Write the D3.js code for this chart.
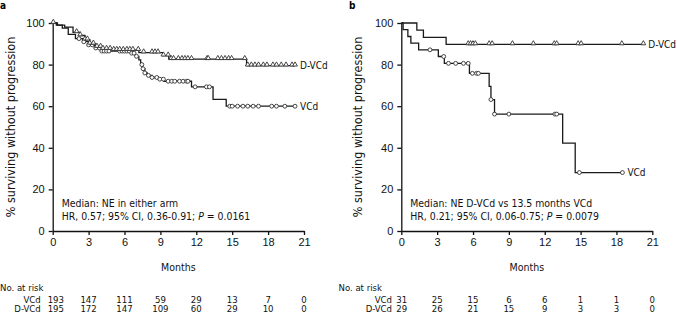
<!DOCTYPE html>
<html>
<head>
<meta charset="utf-8">
<script src="https://cdn.jsdelivr.net/npm/d3@7"></script>
<style>
  body { margin: 0; background: #fff; }
  svg { font-family: "DejaVu Sans Condensed", "Liberation Sans", sans-serif; }
  .axis path, .axis line { stroke: #111; stroke-width: 1.3; }
  .axis text { font-size: 11px; fill: #111; }
</style>
</head>
<body>
<svg id="chart" width="677" height="316"></svg>
<script>
// ticks
const months = [0, 3, 6, 9, 12, 15, 18, 21];
const yTicks = [0, 20, 40, 60, 80, 100];

// panel a: [time in months, % surviving after the drop]
const aVcdSteps = [[0, 100], [0.3, 99], [0.8, 97.5], [1.3, 94.5], [1.9, 92.5], [2.5, 91], [3.0, 89.5], [3.5, 88], [4.0, 86.5],
    [6.5, 85.5], [6.9, 84], [7.2, 82.3], [7.35, 80], [7.5, 78], [7.7, 76], [7.9, 74.8], [8.3, 73.8], [8.8, 73], [9.3, 72],
    [11.6, 69.3], [13.4, 63.3], [14.5, 60]];
const aVcdCensor = [2.2, 2.6, 3.0, 3.3, 3.6, 3.9, 4.1, 4.3, 4.5, 4.7, 5.6, 5.8, 6.0, 6.2, 6.4, 6.6, 6.8, 7.0,
    7.45, 7.55, 7.7, 8.0, 8.3, 8.7, 8.95, 9.25, 9.65, 9.95, 10.2, 10.6, 10.9, 11.2, 11.3, 11.9, 12.85, 13.1,
    14.8, 15.0, 15.45, 15.9, 16.3, 16.75, 17.2, 18.3, 18.7, 19.4, 20.25];
const aDvcdSteps = [[0, 100], [0.4, 99], [1.0, 98], [1.7, 95.5], [2.3, 94], [2.7, 92], [3.1, 90], [3.6, 88.5], [4.2, 87.5],
    [5.0, 87], [7.2, 85.8], [9.2, 84.3], [9.7, 82.6], [16.2, 79.5]];
const aDvcdCensor = [0.05, 2.0, 2.3, 2.7, 2.9, 3.1, 3.4, 3.7, 4.0, 4.2, 4.5, 4.8, 5.1, 5.35, 5.6, 5.9, 6.2, 6.45, 6.7,
    7.15, 7.6, 8.3, 8.55, 8.8, 9.25, 9.65, 9.9, 10.1, 10.5, 10.8, 11.05, 11.3, 11.6, 12.9, 13.0, 13.8, 14.1, 14.4,
    14.7, 14.95, 16.05, 16.3, 16.6, 16.9, 17.2, 17.6, 17.9, 18.4, 18.7, 19.1, 19.5, 20.0, 20.25];
const aVcdRisk = [193, 147, 111, 59, 29, 13, 7, 0];
const aDvcdRisk = [195, 172, 147, 109, 60, 29, 10, 0];

// panel b
const bVcdSteps = [[0, 100], [0.15, 96.8], [0.55, 93.5], [0.8, 90.3], [1.45, 87.1], [3.1, 83.9], [3.6, 80.6],
    [5.7, 75.8], [7.35, 69.5], [7.5, 63.2], [7.8, 56.2], [13.5, 42.2], [14.55, 28.1]];
const bVcdCensor = [2.4, 3.55, 3.95, 4.55, 5.2, 5.6, 5.95, 6.3, 6.45, 7.5, 7.8, 9.0, 12.85, 13.0, 14.9, 18.5];
const bDvcdSteps = [[0, 100], [1.3, 96.6], [1.85, 93.1], [3.75, 89.7]];
const bDvcdCensor = [5.6, 5.8, 6.0, 6.2, 7.35, 7.6, 9.3, 11.05, 12.8, 13.0, 14.8, 15.05, 18.45, 20.25];
const bVcdRisk = [31, 25, 15, 6, 6, 1, 1, 0];
const bDvcdRisk = [29, 26, 21, 15, 9, 3, 3, 0];

const svg = d3.select("#chart");

const panels = [
    {
        letter: "a", letterX: 0, left: 52.7, right: 304, titleX: 15,
        riskTitleX: 0, riskLabelX: 40.7,
        notes: ["Median: NE in either arm", "HR, 0.57; 95% CI, 0.36-0.91; ", "0.0161"],
        arms: [
            { name: "VCd", steps: aVcdSteps, censor: aVcdCensor, risk: aVcdRisk, marker: "circle" },
            { name: "D-VCd", steps: aDvcdSteps, censor: aDvcdCensor, risk: aDvcdRisk, marker: "triangle" }
        ]
    },
    {
        letter: "b", letterX: 349, left: 401.3, right: 652.3, titleX: 362,
        riskTitleX: 338.5, riskLabelX: 392,
        notes: ["Median: NE D-VCd vs 13.5 months VCd", "HR, 0.21; 95% CI, 0.06-0.75; ", "0.0079"],
        arms: [
            { name: "VCd", steps: bVcdSteps, censor: bVcdCensor, risk: bVcdRisk, marker: "circle" },
            { name: "D-VCd", steps: bDvcdSteps, censor: bDvcdCensor, risk: bDvcdRisk, marker: "triangle" }
        ]
    }
];

const plotTop = 23, plotBottom = 231;

// value of the step function at time t
function survAt(steps, t) {
    let v = steps[0][1];
    steps.forEach(s => { if (s[0] <= t) v = s[1]; });
    return v;
}

panels.forEach(p => {
    const x = d3.scaleLinear().domain([0, 21]).range([p.left, p.right]);
    const y = d3.scaleLinear().domain([0, 100]).range([plotBottom, plotTop]);
    const g = svg.append("g");

    g.append("text").attr("x", p.letterX).attr("y", 9)
        .attr("font-size", 10).attr("font-weight", "bold")
        .text(p.letter);

    g.append("g").attr("class", "axis")
        .attr("transform", `translate(${p.left},0)`)
        .call(d3.axisLeft(y).tickValues(yTicks).tickSize(4).tickSizeOuter(0).tickPadding(4));

    g.append("g").attr("class", "axis")
        .attr("transform", `translate(0,${plotBottom})`)
        .call(d3.axisBottom(x).tickValues(months).tickSize(4).tickSizeOuter(0).tickPadding(3));

    g.append("text")
        .attr("transform", `translate(${p.titleX},${(plotTop + plotBottom) / 2}) rotate(-90)`)
        .attr("text-anchor", "middle").attr("font-size", 12.5).attr("fill", "#111")
        .text("% surviving without progression");

    g.append("text").attr("x", (p.left + p.right) / 2).attr("y", 271)
        .attr("text-anchor", "middle").attr("font-size", 10.5).attr("fill", "#111")
        .text("Months");

    // annotation
    g.append("text").attr("x", p.left + 9).attr("y", 206.5)
        .attr("font-size", 10.4).attr("fill", "#111").text(p.notes[0]);
    const hr = g.append("text").attr("x", p.left + 9).attr("y", 220)
        .attr("font-size", 10.4).attr("fill", "#111");
    hr.append("tspan").text(p.notes[1]);
    hr.append("tspan").attr("font-style", "italic").text("P");
    hr.append("tspan").text(" = " + p.notes[2]);

    const line = d3.line().x(d => x(d[0])).y(d => y(d[1])).curve(d3.curveStepAfter);

    p.arms.forEach(arm => {
        const last = arm.steps[arm.steps.length - 1];
        const end = Math.max(last[0], d3.max(arm.censor));
        const pts = arm.steps.concat([[end, last[1]]]);

        g.append("path").datum(pts)
            .attr("fill", "none").attr("stroke", "#1a1a1a").attr("stroke-width", 1.3)
            .attr("d", line);

        g.append("g").selectAll("path")
            .data(arm.censor)
            .join("path")
            .attr("transform", t => `translate(${x(t)},${y(survAt(arm.steps, t)) - (arm.marker === "triangle" ? 1 : 0)})`)
            .attr("d", d3.symbol(arm.marker === "circle" ? d3.symbolCircle : d3.symbolTriangle, arm.marker === "circle" ? 12 : 10))
            .attr("fill", "#fff").attr("stroke", "#333").attr("stroke-width", 0.9);

        g.append("text").attr("x", x(end) + 5).attr("y", y(last[1]))
            .attr("dy", "0.35em").attr("font-size", 10).attr("fill", "#111")
            .text(arm.name);
    });

    // number at risk table
    g.append("text").attr("x", p.riskTitleX).attr("y", 290.5)
        .attr("font-size", 9.5).attr("fill", "#111").text("No. at risk");

    p.arms.forEach((arm, i) => {
        const ry = 302.5 + i * 9.5;
        g.append("text").attr("x", p.riskLabelX).attr("y", ry)
            .attr("text-anchor", "end").attr("font-size", 9.5).attr("fill", "#111").text(arm.name);
        g.append("g").selectAll("text")
            .data(arm.risk)
            .join("text")
            .attr("x", (d, j) => j === 0 ? x(months[j]) - 5 : x(months[j]))
            .attr("y", ry)
            .attr("text-anchor", (d, j) => j === 0 ? "start" : "middle")
            .attr("font-size", 9.5).attr("fill", "#111")
            .text(d => d);
    });
});
</script>
</body>
</html>
